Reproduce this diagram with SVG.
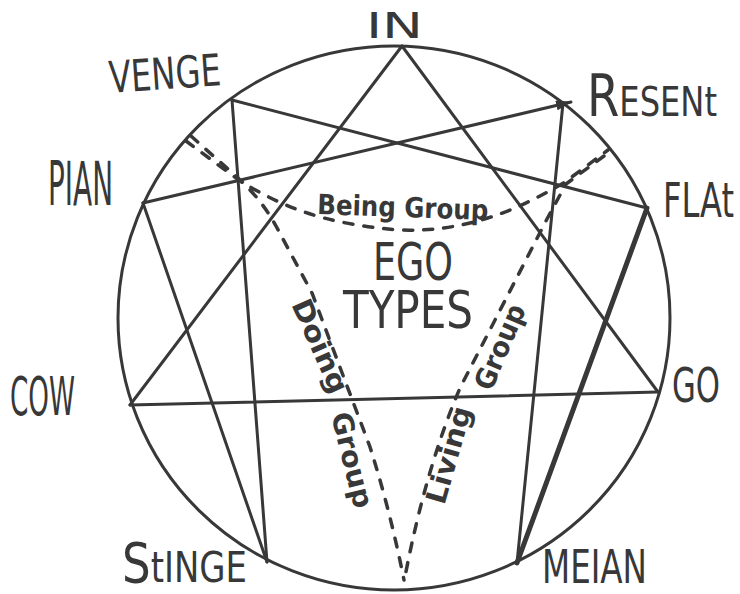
<svg xmlns="http://www.w3.org/2000/svg" width="740" height="594" viewBox="0 0 740 594">
<defs>
<style>
.ln{stroke:#383838;stroke-width:3;stroke-linecap:round;fill:none}
.thick{stroke-width:5}
.ds{stroke:#383838;stroke-width:3.5;stroke-linecap:round;fill:none;stroke-dasharray:9 11}
.lbl{font-family:"Liberation Sans Narrow","DejaVu Sans Condensed","Liberation Sans",sans-serif;fill:#383838}
.grp{font-family:"Liberation Sans Narrow","DejaVu Sans Condensed","Liberation Sans",sans-serif;fill:#383838;font-size:28px;font-weight:bold}
</style>
<marker id="ah" markerUnits="userSpaceOnUse" markerWidth="16" markerHeight="10" refX="15" refY="5" orient="auto">
<path d="M0,0 L16,5 L0,10 z" fill="#383838"/>
</marker>
</defs>
<rect width="740" height="594" fill="#ffffff"/>

<g id="circle">
<ellipse cx="394" cy="318" rx="276" ry="272" class="ln"/>
</g>

<g id="connectors">
<line class="ln" x1="402" y1="46" x2="130" y2="405"/>
<line class="ln" x1="402" y1="46" x2="658" y2="392"/>
<line class="ln" x1="130" y1="405" x2="658" y2="392"/>
<line class="ln" x1="563" y1="103" x2="517" y2="563"/>
<line class="ln thick" x1="517" y1="563" x2="647" y2="208"/>
<line class="ln" x1="647" y1="208" x2="232" y2="100"/>
<line class="ln" x1="232" y1="100" x2="267" y2="562"/>
<line class="ln" x1="267" y1="562" x2="143" y2="203"/>
<line class="ln" x1="143" y1="203" x2="571" y2="102" marker-end="url(#ah)"/>
</g>

<g id="group-lines">
<path class="ds" d="M186,141 L240,181 C280,205 320,224 400,230 C460,232 510,215 565,182 L608,150"/>
<path class="ds" d="M191,136 L238,178 Q262,200 276,226 L312,293 L370,447 Q390,510 404,580"/>
<path class="ds" d="M604,156 L566,184 L547,219 L460,388 Q425,470 404,582"/>
</g>

<g id="node-in"><text class="lbl" x="366" y="38" font-size="36" textLength="57" lengthAdjust="spacingAndGlyphs">IN</text></g>
<g id="node-venge"><text class="lbl" transform="translate(110,93) rotate(-4)" font-size="44" textLength="112" lengthAdjust="spacingAndGlyphs">VENGE</text></g>
<g id="node-resent"><text class="lbl" x="587" y="116" textLength="130" lengthAdjust="spacingAndGlyphs"><tspan font-size="58">R</tspan><tspan font-size="40">ESENt</tspan></text></g>
<g id="node-flat"><text class="lbl" transform="translate(663,217) scale(1,1.3)" font-size="37" textLength="71" lengthAdjust="spacingAndGlyphs">FLAt</text></g>
<g id="node-go"><text class="lbl" x="672" y="402" font-size="48" textLength="48" lengthAdjust="spacingAndGlyphs">GO</text></g>
<g id="node-meian"><text class="lbl" x="542" y="583" font-size="47" textLength="105" lengthAdjust="spacingAndGlyphs">MEIAN</text></g>
<g id="node-stinge"><text class="lbl" x="122" y="582" textLength="125" lengthAdjust="spacingAndGlyphs"><tspan font-size="56">S</tspan><tspan font-size="42">tINGE</tspan></text></g>
<g id="node-cow"><text class="lbl" x="10" y="415" font-size="54" textLength="65" lengthAdjust="spacingAndGlyphs">COW</text></g>
<g id="node-pian"><text class="lbl" x="48" y="205" font-size="60" textLength="65" lengthAdjust="spacingAndGlyphs">PIAN</text></g>

<g id="node-ego">
<text class="lbl" font-size="51"><tspan x="373" y="280" textLength="80" lengthAdjust="spacingAndGlyphs">EGO</tspan><tspan x="343" y="328" textLength="130" lengthAdjust="spacingAndGlyphs">TYPES</tspan></text>
</g>

<g id="label-being">
<text class="grp" transform="translate(317,214) rotate(2)" textLength="171" lengthAdjust="spacingAndGlyphs">Being Group</text>
</g>
<g id="label-doing">
<text class="grp" transform="translate(320,346) rotate(66)" text-anchor="middle" dominant-baseline="central" textLength="100" lengthAdjust="spacingAndGlyphs">Doing</text>
<text class="grp" transform="translate(352,460) rotate(76)" text-anchor="middle" dominant-baseline="central" textLength="98" lengthAdjust="spacingAndGlyphs">Group</text>
</g>
<g id="label-living">
<text class="grp" transform="translate(449,455) rotate(-74)" text-anchor="middle" dominant-baseline="central" textLength="100" lengthAdjust="spacingAndGlyphs">Living</text>
<text class="grp" transform="translate(500,347) rotate(-67)" text-anchor="middle" dominant-baseline="central" textLength="90" lengthAdjust="spacingAndGlyphs">Group</text>
</g>
</svg>
